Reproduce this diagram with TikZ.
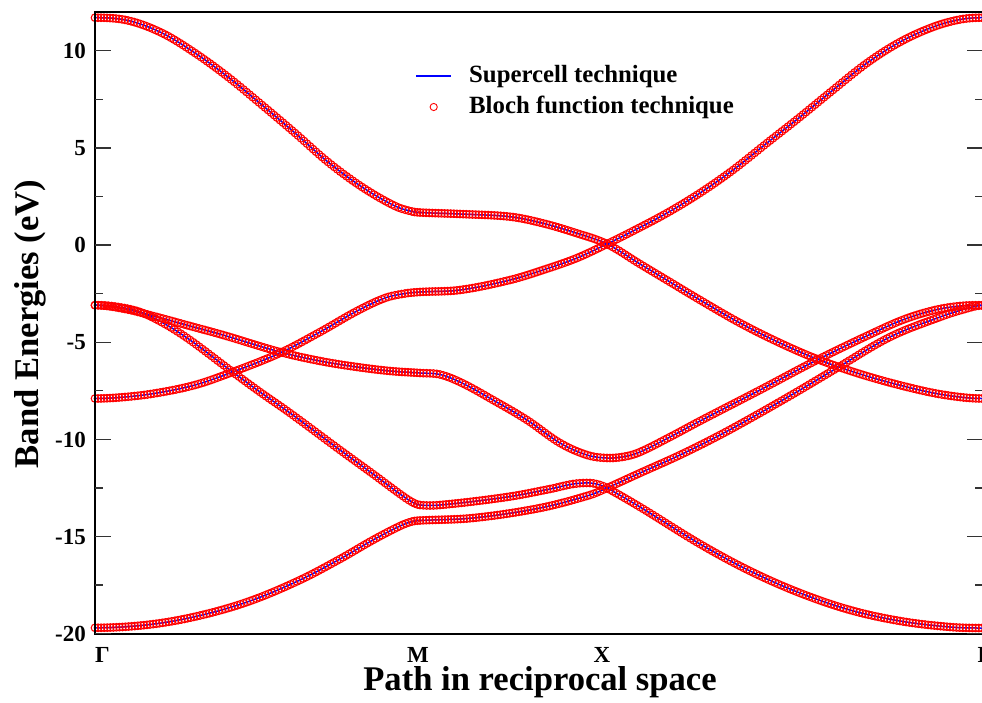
\documentclass[tikz,border=0pt]{standalone}
\usepackage{fontspec}
\setmainfont{Liberation Serif}
\usetikzlibrary{plotmarks}
% spacing of the k-points along the horizontal axis
\newcommand\bkstep{3.1}
% \buildband{name}{x/y knots}: cubic Hermite interpolation through the knots
% (slopes from neighbours, flat at both ends); the sampled points are kept
% in \csname name\endcsname as "(x,y) (x,y) ..."
\newcommand\buildband[2]{%
  \foreach \xx/\yy [count=\i] in {#2} {%
    \expandafter\xdef\csname bkx\i\endcsname{\xx}%
    \expandafter\xdef\csname bky\i\endcsname{\yy}%
    \xdef\bkn{\i}%
  }%
  \foreach \i in {1,...,\bkn} {%
    \ifnum\i=1\relax
      \expandafter\xdef\csname bkm\i\endcsname{0}%
    \else\ifnum\i=\bkn\relax
      \expandafter\xdef\csname bkm\i\endcsname{0}%
    \else
      \pgfmathtruncatemacro\bkip{\i+1}%
      \pgfmathtruncatemacro\bkim{\i-1}%
      \edef\bkya{\csname bky\bkim\endcsname}%
      \edef\bkyb{\csname bky\bkip\endcsname}%
      \edef\bkxa{\csname bkx\bkim\endcsname}%
      \edef\bkxb{\csname bkx\bkip\endcsname}%
      \pgfmathsetmacro\bkmm{((\bkyb)-(\bkya))/((\bkxb)-(\bkxa))}%
      \expandafter\xdef\csname bkm\i\endcsname{\bkmm}%
    \fi\fi
  }%
  \gdef\bklist{}%
  \pgfmathtruncatemacro\bklast{\bkn-1}%
  \foreach \i in {1,...,\bklast} {%
    \pgfmathtruncatemacro\bkip{\i+1}%
    \edef\bkxa{\csname bkx\i\endcsname}%
    \edef\bkxb{\csname bkx\bkip\endcsname}%
    \edef\bkya{\csname bky\i\endcsname}%
    \edef\bkyb{\csname bky\bkip\endcsname}%
    \edef\bkma{\csname bkm\i\endcsname}%
    \edef\bkmb{\csname bkm\bkip\endcsname}%
    \pgfmathsetmacro\bkh{(\bkxb)-(\bkxa)}%
    \pgfmathtruncatemacro\bkns{max(1,round(\bkh/\bkstep))}%
    \pgfmathtruncatemacro\bknsm{\bkns-1}%
    \foreach \j in {0,...,\bknsm} {%
      \pgfmathsetmacro\bks{\j/\bkns}%
      \pgfmathsetmacro\bkpx{(\bkxa)+\bks*\bkh}%
      \pgfmathsetmacro\bkpy{(2*\bks^3-3*\bks^2+1)*(\bkya)+(\bks^3-2*\bks^2+\bks)*\bkh*(\bkma)+(3*\bks^2-2*\bks^3)*(\bkyb)+(\bks^3-\bks^2)*\bkh*(\bkmb)}%
      \xdef\bklist{\bklist(\bkpx,\bkpy) }%
    }%
  }%
  \edef\bkxa{\csname bkx\bkn\endcsname}%
  \edef\bkya{\csname bky\bkn\endcsname}%
  \expandafter\xdef\csname #1\endcsname{\bklist(\bkxa,\bkya)}%
}
\begin{document}
\begin{tikzpicture}[x=1pt, y=-1pt,
  bandline/.style={draw=blue, line width=1.5pt, line join=round},
  bandmarks/.style={draw=red, line width=1.1pt},
  markplot/.style={only marks, mark=o, mark size=3.8pt},
  frame/.style={line width=2pt, black},
  tickmark/.style={line width=1.3pt, black!80},
  ticklabel/.style={font=\fontsize{23}{26}\selectfont\bfseries, inner sep=0pt},
  axistitle/.style={font=\fontsize{34.6}{40}\selectfont\bfseries, inner sep=0pt},
  legtext/.style={font=\fontsize{24.8}{28}\selectfont\bfseries, inner sep=0pt, anchor=base west}]
\useasboundingbox (0,0) rectangle (982,702);

% the five bands along Gamma - M - X - Gamma
\buildband{bandA}{95/17.7, 128/20.5, 162/33, 195/53, 228/77, 262/105, 295/133, 328/162, 362/187, 395/206, 412/211.5, 420/212.5, 460/214, 510/216.7, 543/223.3, 577/233.3, 607/244, 640/264, 670/282, 700/300, 740/323, 780/343, 817/359, 860/374, 907/387, 945/395, 982/398.5}
\buildband{bandB}{95/398.5, 125/397, 157/393, 195/385, 230/373, 280/353, 320/332, 357/311, 385/298, 405/293.5, 420/292, 460/290, 510/280, 543/270, 577/258, 607/244, 633/231, 667/213, 700/193, 733/170, 767/143, 800/117, 833/90, 867/63, 900/42, 933/27, 960/19.5, 982/17.7}
\buildband{bandC}{95/305.2, 125/309, 157/317, 190/326, 223/335, 280/352, 320/361, 357/367, 390/371, 420/373, 440/374.5, 462/383, 493/400, 527/420, 560/443, 587/455, 607/458, 625/456.5, 640/452, 670/437, 700/421, 760/390, 817/360, 873/333, 905/319, 935/310, 960/306, 982/305.2}
\buildband{bandD}{95/305.2, 115/306.5, 140/312, 165/324, 190/340, 230/370, 260/392, 290/413, 340/450, 373/474, 400/494, 412/502, 420/505, 440/505, 507/497, 550/489, 573/484, 590/483, 600/485, 607/488, 640/507, 700/544, 750/571, 800/593, 850/610, 900/621, 950/627, 982/628}
\buildband{bandE}{95/627.8, 150/624.5, 200/615.5, 250/601, 300/580, 340/559, 373/540, 400/526, 412/521.5, 420/520.5, 473/518, 540/508, 590/495, 607/488, 640/473, 680/455, 720/435, 760/413, 800/390, 837/368, 890/337, 940/317, 965/309, 982/305.5}

% blue lines first, red circle markers on top
\foreach \bb in {bandA,bandB,bandC,bandD,bandE} {
  \edef\bkdraw{\noexpand\draw[bandline] plot coordinates {\csname\bb\endcsname};}\bkdraw
}
\foreach \bb in {bandA,bandB,bandC,bandD,bandE} {
  \edef\bkdraw{\noexpand\draw[bandmarks] plot[markplot] coordinates {\csname\bb\endcsname};}\bkdraw
}

% frame
\draw[frame] (95,11.8) rectangle (983,633.6);

% y ticks on both sides
\foreach \v in {-20,-15,...,10} {
  \draw[tickmark] (95,{245-19.43*\v}) -- ++(16,0);
  \draw[tickmark] (983,{245-19.43*\v}) -- ++(-16,0);
}
\foreach \v in {-17.5,-12.5,...,7.5} {
  \draw[tickmark] (95,{245-19.43*\v}) -- ++(8,0);
  \draw[tickmark] (983,{245-19.43*\v}) -- ++(-8,0);
}

% y tick labels
\node[ticklabel, anchor=base east] (y10) at (86,58.5) {10};
\node[ticklabel, anchor=base east] (y5) at (86,155.6) {5};
\node[ticklabel, anchor=base east] (y0) at (86,252.8) {0};
\node[ticklabel, anchor=base east] (ym5) at (86,349.9) {-5};
\node[ticklabel, anchor=base east] (ym10) at (86,447.1) {-10};
\node[ticklabel, anchor=base east] (ym15) at (86,544.2) {-15};
\node[ticklabel, anchor=base east] (ym20) at (86,641.4) {-20};

% high-symmetry point labels
\node[ticklabel, anchor=base] (kG1) at (102.5,662) {Γ};
\node[ticklabel, anchor=base] (kM) at (418,662) {M};
\node[ticklabel, anchor=base] (kX) at (602,662) {X};
\node[ticklabel, anchor=base] (kG2) at (985,662) {Γ};

% axis titles
\node[axistitle, anchor=base] (xtitle) at (540,690) {Path in reciprocal space};
\node[axistitle, anchor=base, rotate=90] (ytitle) at (38,324) {Band Energies (eV)};

% legend
\coordinate (l1a) at (416,76);
\coordinate (l1b) at (451,76);
\draw[bandline] (l1a) -- (l1b);
\node[legtext] (leg1) at (469,82.5) {Supercell technique};
\coordinate (l2) at (433.7,107);
\draw[red, line width=0.9pt] plot[only marks, mark=o, mark size=3.6pt] coordinates {(l2)};
\node[legtext] (leg2) at (469,113.3) {Bloch function technique};
\end{tikzpicture}
\end{document}
